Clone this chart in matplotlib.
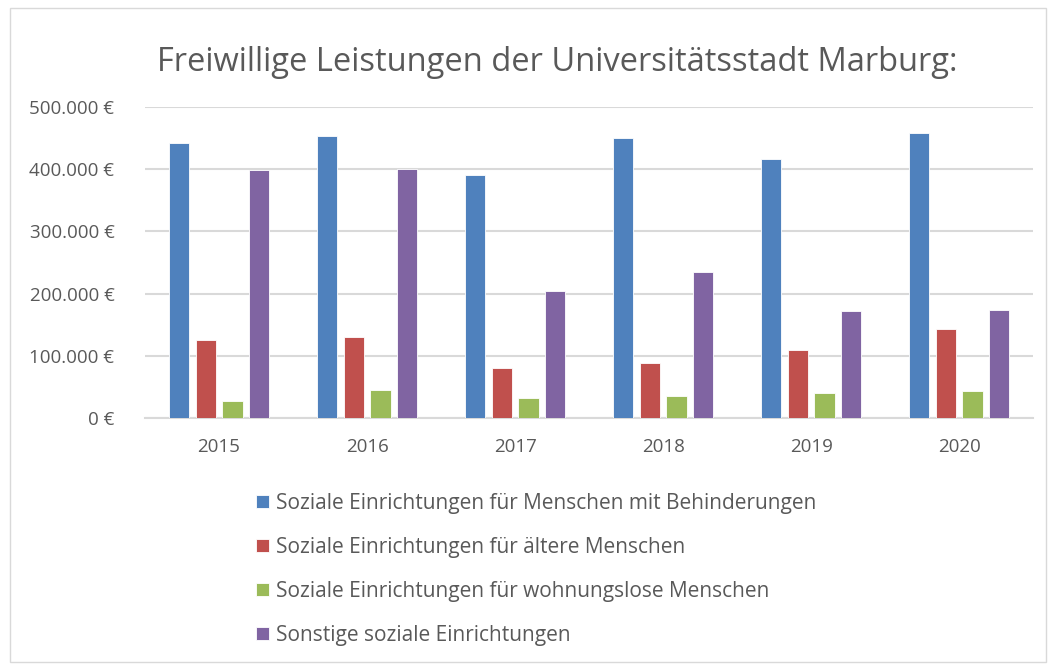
import matplotlib.pyplot as plt
import numpy as np
from matplotlib.patches import Rectangle
from matplotlib.ticker import FuncFormatter

plt.rcParams['font.family'] = ['Open Sans', 'DejaVu Sans']

years = ['2015', '2016', '2017', '2018', '2019', '2020']
behinderung = [441000, 452000, 390000, 449000, 416000, 457000]
aeltere = [125000, 131000, 80000, 89000, 109000, 143000]
wohnungslos = [27000, 46000, 32000, 35000, 41000, 44000]
sonstige = [399000, 400000, 204000, 235000, 172000, 173000]

series = [
    ("Soziale Einrichtungen für Menschen mit Behinderungen", behinderung, "#4f81bd"),
    ("Soziale Einrichtungen für ältere Menschen", aeltere, "#c0504d"),
    ("Soziale Einrichtungen für wohnungslose Menschen", wohnungslos, "#9bbb59"),
    ("Sonstige soziale Einrichtungen", sonstige, "#8064a2"),
]

fig = plt.figure(figsize=(10.51, 6.66), dpi=100)
ax = fig.add_axes([0.138, 0.372, 0.845, 0.468])

x = np.arange(len(years))
step = 0.18
for i, (name, vals, col) in enumerate(series):
    ax.bar(x + (i - 1.5) * step, vals, width=0.138, color=col,
           edgecolor='white', linewidth=0.6, label=name, zorder=3)

ax.set_xlim(-0.5, len(years) - 0.5)
ax.set_ylim(0, 500000)
ax.set_yticks(range(0, 500001, 100000))
ax.yaxis.set_major_formatter(FuncFormatter(
    lambda v, p: f"{int(v):,} €".replace(",", ".")))
ax.set_xticks(x)
ax.set_xticklabels(years)
ax.grid(axis='y', color='#d9d9d9', linewidth=1.5, zorder=0)
for s in ['top', 'right', 'left']:
    ax.spines[s].set_visible(False)
ax.spines['bottom'].set_color('#d9d9d9')
ax.spines['bottom'].set_linewidth(1.5)
ax.tick_params(length=0, labelsize=13.5, colors='#595959')
ax.tick_params(axis='x', pad=14)
ax.tick_params(axis='y', pad=22)

fig.text(0.53, 0.906, "Freiwillige Leistungen der Universitätsstadt Marburg:",
         ha='center', va='center', fontsize=23.5, color='#595959')

h, l = ax.get_legend_handles_labels()
leg = fig.legend(h, l, loc='upper left', bbox_to_anchor=(0.226, 0.288),
                 frameon=False, fontsize=15, labelcolor='#595959',
                 handlelength=0.6, handleheight=0.6, handletextpad=0.35,
                 labelspacing=1.1)

fig.patches.append(Rectangle((10 / 1051, 4 / 666), 1036 / 1051, 654 / 666,
                             transform=fig.transFigure, fill=False,
                             edgecolor='#d9d9d9', linewidth=1))

fig.savefig('out.png', dpi=100)
